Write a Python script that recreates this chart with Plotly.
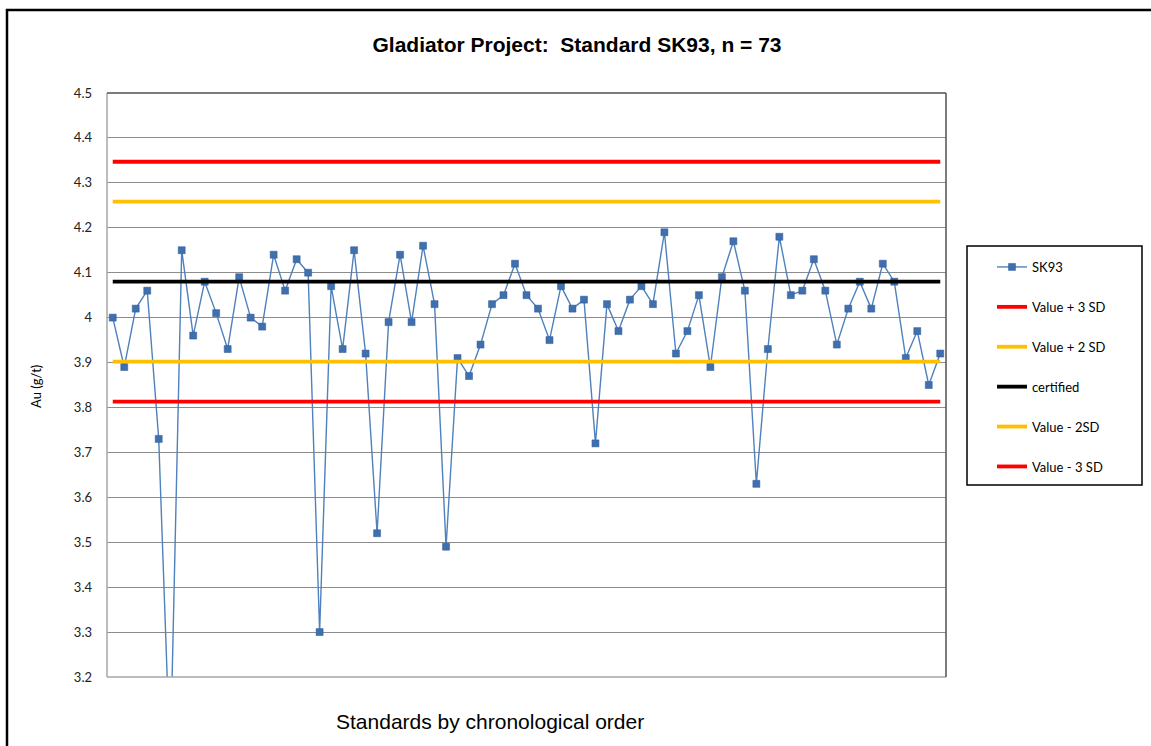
import plotly.graph_objects as go

# ---- data ----
sample_index = list(range(1, 74))
sk93_values = [
    4.00, 3.89, 4.02, 4.06, 3.73, 3.01, 4.15, 3.96, 4.08, 4.01,
    3.93, 4.09, 4.00, 3.98, 4.14, 4.06, 4.13, 4.10, 3.30, 4.07,
    3.93, 4.15, 3.92, 3.52, 3.99, 4.14, 3.99, 4.16, 4.03, 3.49,
    3.91, 3.87, 3.94, 4.03, 4.05, 4.12, 4.05, 4.02, 3.95, 4.07,
    4.02, 4.04, 3.72, 4.03, 3.97, 4.04, 4.07, 4.03, 4.19, 3.92,
    3.97, 4.05, 3.89, 4.09, 4.17, 4.06, 3.63, 3.93, 4.18, 4.05,
    4.06, 4.13, 4.06, 3.94, 4.02, 4.08, 4.02, 4.12, 4.08, 3.91,
    3.97, 3.85, 3.92,
]
ref_names = ["Value + 3 SD", "Value + 2 SD", "certified", "Value - 2SD", "Value - 3 SD"]
ref_values = [4.347, 4.258, 4.08, 3.902, 3.813]
ref_colors = ["#FF0000", "#FFC000", "#000000", "#FFC000", "#FF0000"]
y_ticks = [3.2, 3.3, 3.4, 3.5, 3.6, 3.7, 3.8, 3.9, 4.0, 4.1, 4.2, 4.3, 4.4, 4.5]
y_ticktext = ["3.2", "3.3", "3.4", "3.5", "3.6", "3.7", "3.8", "3.9", "4", "4.1", "4.2", "4.3", "4.4", "4.5"]

W, H = 1151, 746
L, R, T, B = 107, 946, 93, 677
pw, ph = R - L, B - T

def px(x):
    return (x - L) / pw

def py(y):
    return (B - y) / ph

fig = go.Figure()
fig.add_trace(go.Scatter(
    x=sample_index, y=sk93_values, mode="lines+markers", name="SK93",
    line=dict(color="#4F81BD", width=1.4),
    marker=dict(symbol="square", size=7, color="#3F6FAE", line=dict(color="#2E5C96", width=0.5)),
    legendgroup="g0",
))
for i, (n, v, c) in enumerate(zip(ref_names, ref_values, ref_colors)):
    fig.add_trace(go.Scatter(
        x=[sample_index[0], sample_index[-1]], y=[v, v], mode="lines", name=n,
        line=dict(color=c, width=3.8), legendgroup=f"g{i+1}",
    ))

shapes = [
    # outer chart frame
    dict(type="rect", xref="paper", yref="paper", x0=px(7), x1=px(1170), y0=py(765), y1=py(10),
         line=dict(color="#000000", width=2.5), layer="above"),
    # plot area borders
    dict(type="line", xref="paper", yref="paper", x0=0, x1=0, y0=0, y1=1, line=dict(color="#A6A6A6", width=1.5)),
    dict(type="line", xref="paper", yref="paper", x0=0, x1=1, y0=0, y1=0, line=dict(color="#A6A6A6", width=1.5)),
    dict(type="line", xref="paper", yref="paper", x0=0, x1=1, y0=1, y1=1, line=dict(color="#505050", width=1.5)),
    dict(type="line", xref="paper", yref="paper", x0=1, x1=1, y0=0, y1=1, line=dict(color="#505050", width=1.5)),
    # legend box
    dict(type="rect", xref="paper", yref="paper", x0=px(967), x1=px(1142), y0=py(485), y1=py(246),
         line=dict(color="#000000", width=1.5)),
]

annotations = [
    dict(text="Au (g/t)", x=px(36), y=py(387), xref="paper", yref="paper", showarrow=False,
         xanchor="center", yanchor="middle",
         textangle=-90, font=dict(family="Lato, Open Sans", size=13, color="#000000")),
    dict(text="Standards by chronological order", x=px(490), y=py(721), xref="paper", yref="paper",
         xanchor="center", yanchor="middle",
         showarrow=False, font=dict(family="Liberation Sans, Arial", size=21, color="#000000")),
]

fig.update_layout(
    width=W, height=H,
    margin=dict(l=L, r=W - R, t=T, b=H - B, autoexpand=False),
    paper_bgcolor="white", plot_bgcolor="white",
    title=dict(text="<b>Gladiator Project:  Standard SK93, n = 73</b>", x=577 / W, xanchor="center",
               y=1 - 45 / H, yanchor="middle", yref="container",
               font=dict(family="Liberation Sans, Arial", size=21, color="#000000")),
    xaxis=dict(range=[0.5, 73.5], showticklabels=False, showgrid=False, zeroline=False,
               showline=False, ticks=""),
    yaxis=dict(range=[3.2, 4.5], tickvals=y_ticks, ticktext=y_ticktext, showgrid=True,
               gridcolor="#8C8C8C", gridwidth=1, zeroline=False, showline=False, ticks="",
               ticklabelstandoff=14,
               tickfont=dict(family="Lato, Open Sans", size=13, color="#222222")),
    showlegend=True,
    legend=dict(x=px(992), y=py(252), xanchor="left", yanchor="top", bgcolor="rgba(0,0,0,0)",
                borderwidth=0, tracegroupgap=20, traceorder="grouped",
                font=dict(family="Lato, Open Sans", size=13, color="#000000"),
                itemwidth=30),
    shapes=shapes,
    annotations=annotations,
)

fig.write_html("out.html", config={"displayModeBar": False},
               post_script="document.body.style.margin='0';document.body.style.overflow='hidden';")
